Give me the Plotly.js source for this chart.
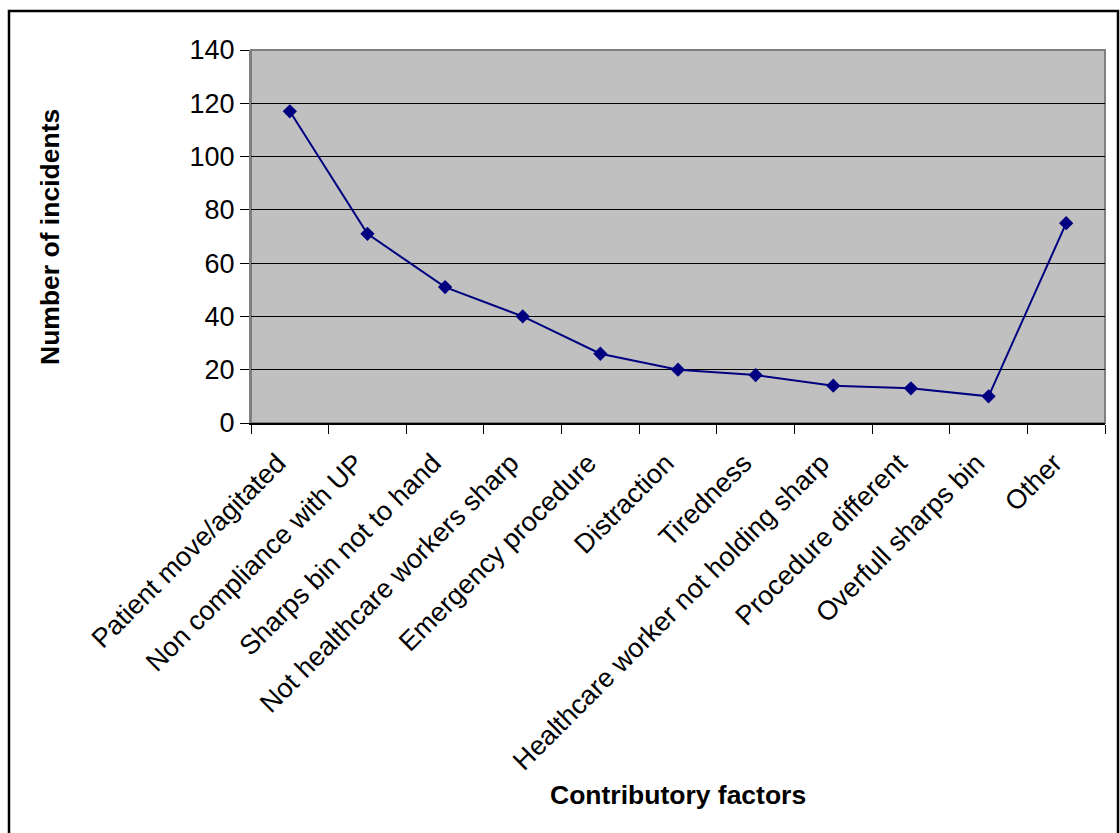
<!DOCTYPE html>
<html>
<head>
<meta charset="utf-8">
<script src="https://cdn.plot.ly/plotly-3.0.1.min.js"></script>
<style>
  html, body { margin: 0; padding: 0; background: #ffffff; }
  #chart { width: 1120px; height: 833px; }
</style>
</head>
<body>
<div id="chart"></div>
<script>
// Contributory factors behind sharps incidents
const factors = [
  "Patient move/agitated",
  "Non compliance with UP",
  "Sharps bin not to hand",
  "Not healthcare workers sharp",
  "Emergency procedure",
  "Distraction",
  "Tiredness",
  "Healthcare worker not holding sharp",
  "Procedure different",
  "Overfull sharps bin",
  "Other"
];
const incidents = [117, 71, 51, 40, 26, 20, 18, 14, 13, 10, 75];
const yTicks = [0, 20, 40, 60, 80, 100, 120, 140];

const font = "Liberation Sans, Arial, sans-serif";

// plotting-area geometry in pixels
const L = 251, R = 1105, T = 50, B = 423, W = 1120, H = 833;
const pw = R - L, ph = B - T;

const trace = {
  type: "scatter",
  mode: "lines+markers",
  x: factors,
  y: incidents,
  line: { color: "#000080", width: 2 },
  marker: { symbol: "diamond", size: 11, color: "#000080" },
  hoverinfo: "x+y"
};

const layout = {
  width: W,
  height: H,
  margin: { l: L, r: W - R, t: T, b: H - B },
  paper_bgcolor: "#ffffff",
  plot_bgcolor: "#c0c0c0",
  showlegend: false,
  font: { family: font, color: "#000000" },
  xaxis: {
    type: "category",
    range: [-0.5, factors.length - 0.5],
    tickson: "boundaries",
    ticks: "outside",
    ticklen: 9,
    tickcolor: "#000000",
    tickwidth: 1,
    tickangle: -45,
    ticklabelstandoff: 12,
    ticklabelshift: -12,
    tickfont: { family: font, size: 27, color: "#000000" },
    showline: true,
    linecolor: "#000000",
    linewidth: 1.5,
    showgrid: false,
    zeroline: false,
    automargin: false
  },
  yaxis: {
    range: [0, 140],
    tickvals: yTicks,
    ticktext: yTicks.map(String),
    ticks: "outside",
    ticklen: 9,
    tickcolor: "#000000",
    tickfont: { family: font, size: 27, color: "#000000" },
    showline: true,
    linecolor: "#808080",
    linewidth: 2,
    showgrid: true,
    gridcolor: "#000000",
    gridwidth: 1,
    zeroline: false,
    automargin: false
  },
  annotations: [
    { text: "<b>Contributory factors</b>", xref: "paper", yref: "paper",
      x: (678 - L) / pw, y: -(795 - B) / ph, xanchor: "center", yanchor: "middle",
      showarrow: false, font: { family: font, size: 26.5, color: "#000000" } },
    { text: "<b>Number of incidents</b>", xref: "paper", yref: "paper",
      x: (50 - L) / pw, y: (B - 237) / ph, xanchor: "center", yanchor: "middle",
      textangle: -90, showarrow: false, font: { family: font, size: 26.5, color: "#000000" } }
  ],
  shapes: [
    // frame around the plotting area
    { type: "rect", xref: "paper", yref: "paper", x0: 0, x1: 1, y0: 0, y1: 1,
      line: { color: "#808080", width: 2 }, fillcolor: "rgba(0,0,0,0)", layer: "below" },
    // outer chart border
    { type: "rect", xref: "paper", yref: "paper",
      x0: (9 - L) / pw, x1: (1118 - L) / pw,
      y0: -(845 - B) / ph, y1: 1 + (T - 11) / ph,
      line: { color: "#000000", width: 2.5 }, fillcolor: "rgba(0,0,0,0)" }
  ]
};

Plotly.newPlot("chart", [trace], layout, { displayModeBar: false, staticPlot: true });
</script>
</body>
</html>
